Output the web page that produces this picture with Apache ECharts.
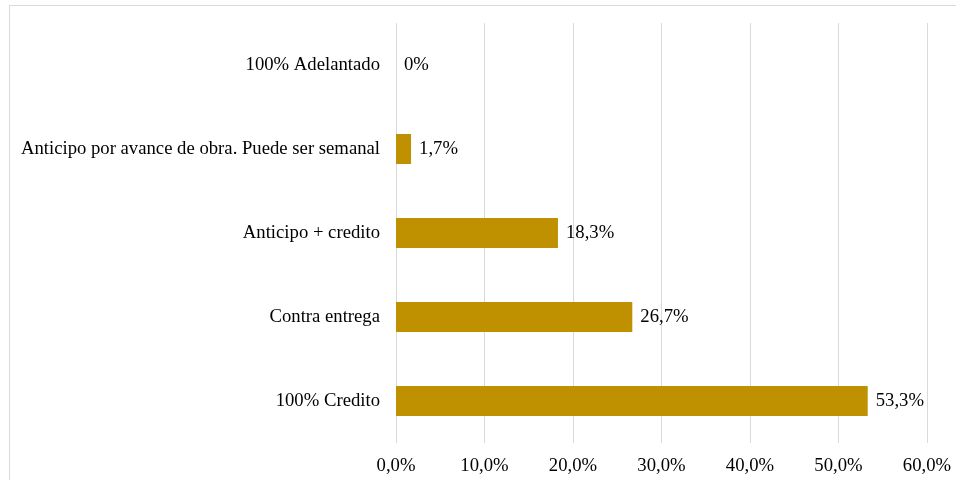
<!DOCTYPE html>
<html>
<head>
<meta charset="utf-8">
<script src="https://cdn.jsdelivr.net/npm/echarts@6/dist/echarts.min.js"></script>
<style>
  html, body { margin: 0; padding: 0; background: #ffffff; }
  #chart { width: 956px; height: 480px; }
</style>
</head>
<body>
<div id="chart"></div>
<script>
// Payment modality categories (bottom to top on the category axis)
const categories = [
  '100% Credito',
  'Contra entrega',
  'Anticipo + credito',
  'Anticipo por avance de obra. Puede ser semanal',
  '100% Adelantado'
];
// Share of responses, in percent
const values = [53.3, 26.7, 18.3, 1.7, 0];
// Value axis ticks, in percent
const tickValues = [0, 10, 20, 30, 40, 50, 60];

const FONT = '"Liberation Serif", "Times New Roman", serif';
const FS = 18.7;
const fmtComma = (v) => v.toFixed(1).replace('.', ',');

const chart = echarts.init(document.getElementById('chart'), null, { renderer: 'canvas' });
chart.setOption({
  backgroundColor: '#ffffff',
  animation: false,
  graphic: [{
    type: 'rect',
    shape: { x: 9.5, y: 5.5, width: 960, height: 490 },
    style: { fill: 'none', stroke: '#d9d9d9', lineWidth: 1 },
    silent: true
  }],
  grid: { left: 396, right: 29, top: 23, bottom: 37 },
  xAxis: {
    type: 'value',
    min: tickValues[0],
    max: tickValues[tickValues.length - 1],
    interval: 10,
    axisLine: { show: false },
    axisTick: { show: false },
    splitLine: { show: true, lineStyle: { color: '#d9d9d9', width: 1 } },
    axisLabel: {
      margin: 14,
      color: '#000000',
      fontFamily: FONT,
      fontSize: FS,
      formatter: (v) => fmtComma(v) + '%'
    }
  },
  yAxis: {
    type: 'category',
    data: categories,
    axisLine: { show: false },
    axisTick: { show: false },
    axisLabel: {
      margin: 16,
      color: '#000000',
      fontFamily: FONT,
      fontSize: FS
    }
  },
  series: [{
    type: 'bar',
    data: values,
    barWidth: 30,
    itemStyle: { color: '#bf9000' },
    label: {
      show: true,
      position: 'right',
      distance: 8,
      color: '#000000',
      fontFamily: FONT,
      fontSize: FS,
      formatter: (p) => (p.value === 0 ? '0' : fmtComma(p.value)) + '%'
    }
  }]
});
</script>
</body>
</html>
